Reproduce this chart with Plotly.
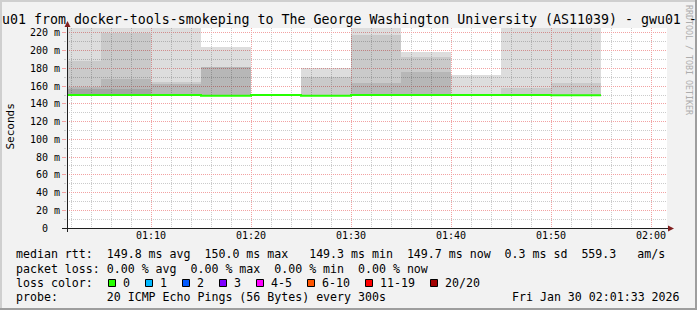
import statistics
import plotly.graph_objects as go

# ---------------- data ----------------
DAY = "2026-01-30 "
block_start = ["01:00", "01:05", "01:10", "01:15", "01:20", "01:25",
               "01:30", "01:35", "01:40", "01:45", "01:50"]
block_end = "01:55"
median_rtt = [150.0, 150.0, 150.0, 149.3, 150.0, 149.3, 149.9, 149.9, 149.9, 149.9, 149.7]
min_ping = [149.2, 149.2, 149.2, 148.5, None, 148.5, 149.1, 149.1, 149.1, 149.1, 148.9]
# tops of the smoke layers (outermost -> inner), ms
smoke_1 = [245.0, 245.0, 245.0, 204.5, None, 180.2, 245.0, 198.4, 172.5, 245.0, 245.0]
smoke_2 = [188.5, 220.4, 165.0, 181.4, None, 170.8, 217.8, 192.6, None, 158.4, 163.6]
smoke_3 = [159.5, 167.8, 163.0, 181.4, None, None, 163.3, 176.4, None, None, None]
smoke_4 = [156.5, 156.5, None, None, None, None, None, None, None, None, None]
packet_loss = [0.0] * 0 + [0.00, 0.00, 0.00, 0.00]  # avg, max, min, now
am_per_s = "559.3"
y_ticks = [0, 20, 40, 60, 80, 100, 120, 140, 160, 180, 200, 220]
y_ticktext = ["0\u00a0\u00a0"] + [f"{v} m" for v in y_ticks[1:]]
loss_labels = ["0", "1", "2", "3", "4-5", "6-10", "11-19", "20/20"]
loss_colors = ["#26ff00", "#00b8ff", "#0059ff", "#7e00ff", "#ff00ff", "#ff5500", "#ff0000", "#a10000"]
title_text = "u01 from docker-tools-smokeping to The George Washington University (AS11039) - gwu01 -"
probe_text = "20 ICMP Echo Pings (56 Bytes) every 300s"
date_text = "Fri Jan 30 02:01:33 2026"

# ---------------- geometry ----------------
FW, FH = 697, 310
L, T, W, H = 67, 28, 600, 200
MONO = "DejaVu Sans Mono"
MAJOR = "#f2a2a2"
MINOR = "#cbcbcb"


def px(x):
    return (x - L) / W


def py(y):
    return (T + H - y) / H


fig = go.Figure()

xs = [DAY + t for t in block_start]
layer_alpha = [0.1333, 0.086, 0.094, 0.1038]
for tops, a in zip([smoke_1, smoke_2, smoke_3, smoke_4], layer_alpha):
    heights = [None if (t is None or b is None) else t - b for t, b in zip(tops, min_ping)]
    fig.add_trace(go.Bar(
        x=xs, y=heights, base=min_ping, width=300000, offset=0,
        marker=dict(color=f"rgba(0,0,0,{a})", line=dict(width=0)),
        hoverinfo="skip", showlegend=False))

fig.add_trace(go.Scatter(
    x=xs + [DAY + block_end], y=median_rtt + [median_rtt[-1]],
    mode="lines", line=dict(color=loss_colors[0], width=2, shape="hv"),
    hoverinfo="skip", showlegend=False))

shapes = []
# frame shading
shapes += [
    dict(type="rect", xref="paper", yref="paper", x0=px(0), x1=px(FW), y0=py(0), y1=py(2),
         fillcolor="#cfcfcf", line=dict(width=0), layer="below"),
    dict(type="rect", xref="paper", yref="paper", x0=px(0), x1=px(2), y0=py(0), y1=py(FH),
         fillcolor="#cfcfcf", line=dict(width=0), layer="below"),
    dict(type="rect", xref="paper", yref="paper", x0=px(0), x1=px(FW), y0=py(FH - 2), y1=py(FH),
         fillcolor="#9e9e9e", line=dict(width=0), layer="below"),
    dict(type="rect", xref="paper", yref="paper", x0=px(FW - 2), x1=px(FW), y0=py(0), y1=py(FH),
         fillcolor="#9e9e9e", line=dict(width=0), layer="below"),
]
# axis lines and arrows
shapes += [
    dict(type="line", xref="paper", yref="paper", x0=px(62), x1=px(668), y0=py(228.5), y1=py(228.5),
         line=dict(color="#1f1f1f", width=1)),
    dict(type="line", xref="paper", yref="paper", x0=px(67.5), x1=px(67.5), y0=py(232), y1=py(26),
         line=dict(color="#1f1f1f", width=1)),
    dict(type="path", xref="paper", yref="paper",
         path=f"M{px(67.5)},{py(21)} L{px(64.5)},{py(27)} L{px(70.5)},{py(27)} Z",
         fillcolor="#801f1f", line=dict(width=0)),
    dict(type="path", xref="paper", yref="paper",
         path=f"M{px(674)},{py(228.5)} L{px(668)},{py(225.5)} L{px(668)},{py(231.5)} Z",
         fillcolor="#801f1f", line=dict(width=0)),
]

annotations = []


def ann(text, x, y, xanchor="left", size=11.6, color="black", angle=0):
    annotations.append(dict(text=text, x=px(x), y=py(y), xref="paper", yref="paper",
                            xanchor=xanchor, yanchor="middle", showarrow=False, borderpad=0,
                            textangle=angle, font=dict(family=MONO, size=size, color=color)))


def columns(items):
    s = ""
    for col, t in items:
        s += " " * max(col - len(s), 0) + t
    return s.replace(" ", "\u00a0")


ann(title_text, 0.7, 19.4, size=13.28)
ann("Seconds", 10.8, 126.7, xanchor="center", size=11, angle=-90)
ann("RRDTOOL / TOBI OETIKER", 689, 60, xanchor="center", size=8.3, color="#adadad", angle=90)

avg = statistics.mean(median_rtt)
sd = statistics.pstdev(median_rtt)
line1 = columns([(0, "median rtt:"), (13, f"{avg:.1f} ms avg"), (27, f"{max(median_rtt):.1f} ms max"),
                 (42, f"{min(median_rtt):.1f} ms min"), (56, f"{median_rtt[-1]:.1f} ms now"),
                 (70, f"{sd:.1f} ms sd"), (81, am_per_s), (89, "am/s")])
line2 = columns([(0, "packet loss:"), (13, f"{packet_loss[0]:.2f} % avg"), (25, f"{packet_loss[1]:.2f} % max"),
                 (37, f"{packet_loss[2]:.2f} % min"), (49, f"{packet_loss[3]:.2f} % now")])
line4 = columns([(0, "probe:"), (13, probe_text)])
ann(line1, 15.2, 254.3)
ann(line2, 15.2, 268.7)
ann("loss\u00a0color:", 15.2, 283.0)
ann(line4, 15.2, 297.4)
ann(date_text, 681, 297.4, xanchor="right")

bx = 108.3
for lab, col in zip(loss_labels, loss_colors):
    shapes.append(dict(type="rect", xref="paper", yref="paper",
                       x0=px(round(bx) + 0.5), x1=px(round(bx) + 7.5), y0=py(279.5), y1=py(286.5),
                       fillcolor=col, line=dict(color="black", width=1)))
    lx = bx + 14.7
    ann(lab, lx - 1, 283.0)
    bx = lx + 7 * len(lab) + 15.3

fig.update_layout(
    width=FW, height=FH, autosize=False,
    margin=dict(l=L, r=FW - L - W, t=T, b=FH - T - H, pad=0),
    paper_bgcolor="#f2f2f2", plot_bgcolor="#ffffff",
    barmode="overlay", bargap=0, showlegend=False,
    font=dict(family=MONO, size=10, color="black"),
    shapes=shapes, annotations=annotations,
    xaxis=dict(type="date", range=[DAY + "01:01:36", DAY + "02:01:36"],
               tickformat="%H:%M", tick0=DAY + "00:00", dtick=600000,
               showgrid=True, gridcolor=MAJOR, griddash="1px,1px", gridwidth=1,
               minor=dict(dtick=120000, showgrid=True, gridcolor=MINOR, griddash="1px,1px", gridwidth=1),
               ticks="", showline=False, zeroline=False, fixedrange=True,
               tickfont=dict(family=MONO, size=10)),
    yaxis=dict(range=[0, 225.6], tickvals=y_ticks, ticktext=y_ticktext,
               showgrid=True, gridcolor=MAJOR, griddash="1px,1px", gridwidth=1,
               minor=dict(dtick=10, showgrid=True, gridcolor=MINOR, griddash="1px,1px", gridwidth=1,
                          ticks="outside", ticklen=2, tickcolor=MINOR),
               ticks="outside", ticklen=4, tickcolor=MAJOR,
               showline=False, zeroline=False, fixedrange=True,
               tickfont=dict(family=MONO, size=10)),
)

fig.write_html("out.html", config={"displayModeBar": False, "staticPlot": True})
